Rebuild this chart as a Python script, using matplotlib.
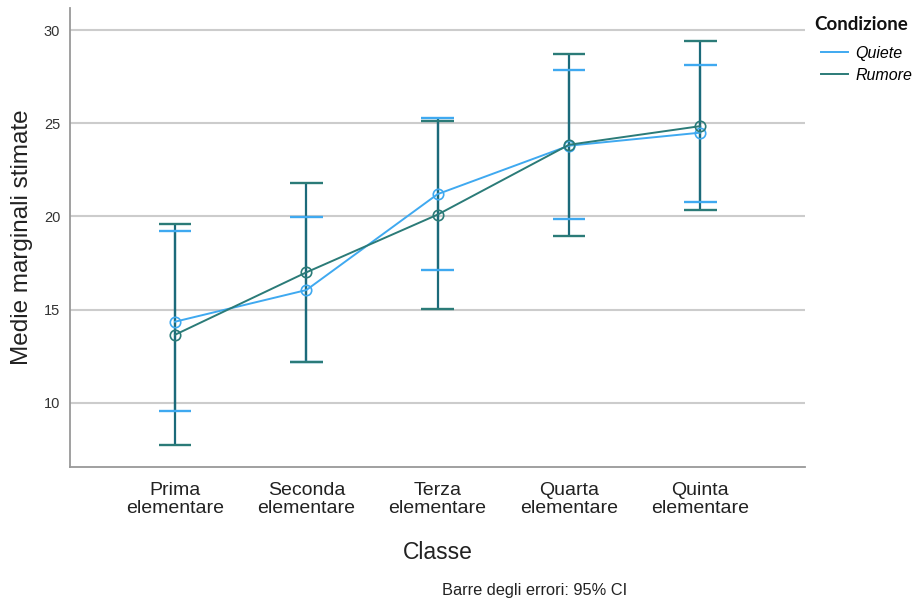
import matplotlib
matplotlib.use('Agg')
from matplotlib import pyplot as plt
from matplotlib.lines import Line2D

# Dati
classi = ['Prima\nelementare', 'Seconda\nelementare', 'Terza\nelementare',
          'Quarta\nelementare', 'Quinta\nelementare']
condizioni = ['Quiete', 'Rumore']

media_quiete = [14.35, 16.05, 21.2, 23.8, 24.5]
ci_basso_quiete = [9.55, 12.2, 17.1, 19.85, 20.8]
ci_alto_quiete = [19.2, 19.95, 25.3, 27.85, 28.15]

media_rumore = [13.65, 17.0, 20.1, 23.85, 24.85]
ci_basso_rumore = [7.75, 12.2, 15.05, 18.95, 20.35]
ci_alto_rumore = [19.6, 21.8, 25.15, 28.75, 29.4]

y_ticks = [10, 15, 20, 25, 30]

col_quiete = '#3fa9f0'
col_rumore = '#2b7b78'
col_barra = '#1b6a7a'

plt.rcParams['font.family'] = ['Liberation Sans', 'DejaVu Sans']

fig = plt.figure(figsize=(9.14, 6.06), dpi=100)
ax = fig.add_axes([0.0766, 0.2294, 0.8044, 0.7576])

x = list(range(len(classi)))

serie = [
    (media_quiete, ci_basso_quiete, ci_alto_quiete, col_quiete),
    (media_rumore, ci_basso_rumore, ci_alto_rumore, col_rumore),
]

# Barre verticali degli intervalli di confidenza
for medie, basso, alto, col in serie:
    ax.vlines(x, basso, alto, color=col_barra, linewidth=1.6, zorder=2)
    ax.hlines(basso, [i - 0.125 for i in x], [i + 0.125 for i in x], color=col, linewidth=1.7, zorder=3)
    ax.hlines(alto, [i - 0.125 for i in x], [i + 0.125 for i in x], color=col, linewidth=1.7, zorder=3)

# Linee delle medie
for medie, basso, alto, col in serie:
    ax.plot(x, medie, color=col, linewidth=1.4, marker='o', markersize=7.5,
            markerfacecolor='none', markeredgecolor=col, markeredgewidth=1.2, zorder=4)

ax.set_xlim(-0.8, 4.8)
ax.set_ylim(6.55, 31.2)
ax.set_yticks(y_ticks)
ax.set_xticks(x)
ax.set_xticklabels(classi, fontsize=14, color='#222222', linespacing=1.05)
ax.tick_params(axis='y', labelsize=10.5, colors='#333333', length=0, pad=7)
ax.tick_params(axis='x', length=0, pad=11)

ax.grid(axis='y', color='#cccccc', linewidth=1.5, zorder=0)
ax.set_axisbelow(True)
for lato in ['top', 'right']:
    ax.spines[lato].set_visible(False)
for lato in ['left', 'bottom']:
    ax.spines[lato].set_color('#999999')
    ax.spines[lato].set_linewidth(1.3)

ax.set_ylabel('Medie marginali stimate', fontsize=17.5, color='#222222', labelpad=8)
ax.set_xlabel('Classe', fontsize=16.5, color='#222222', labelpad=17)

# Legenda (titolo disegnato a parte)
fig.text(814 / 914, 1 - 24 / 606, 'Condizione', ha='left', va='center',
         fontsize=13.5, fontweight='bold', family='Lato', color='#111111')
handles = [Line2D([0], [0], color=col_quiete, linewidth=1.4),
           Line2D([0], [0], color=col_rumore, linewidth=1.4)]
fig.legend(handles, condizioni, loc='upper left', bbox_to_anchor=(0.882, 0.948),
           frameon=False, handlelength=1.7, handletextpad=0.5,
           labelspacing=0.42, prop={'size': 11.5, 'style': 'italic'})

fig.text(0.585, 0.013, 'Barre degli errori: 95% CI', ha='center', va='bottom',
         fontsize=11.8, color='#222222')

plt.savefig('out.png', dpi=100)
plt.close('all')
